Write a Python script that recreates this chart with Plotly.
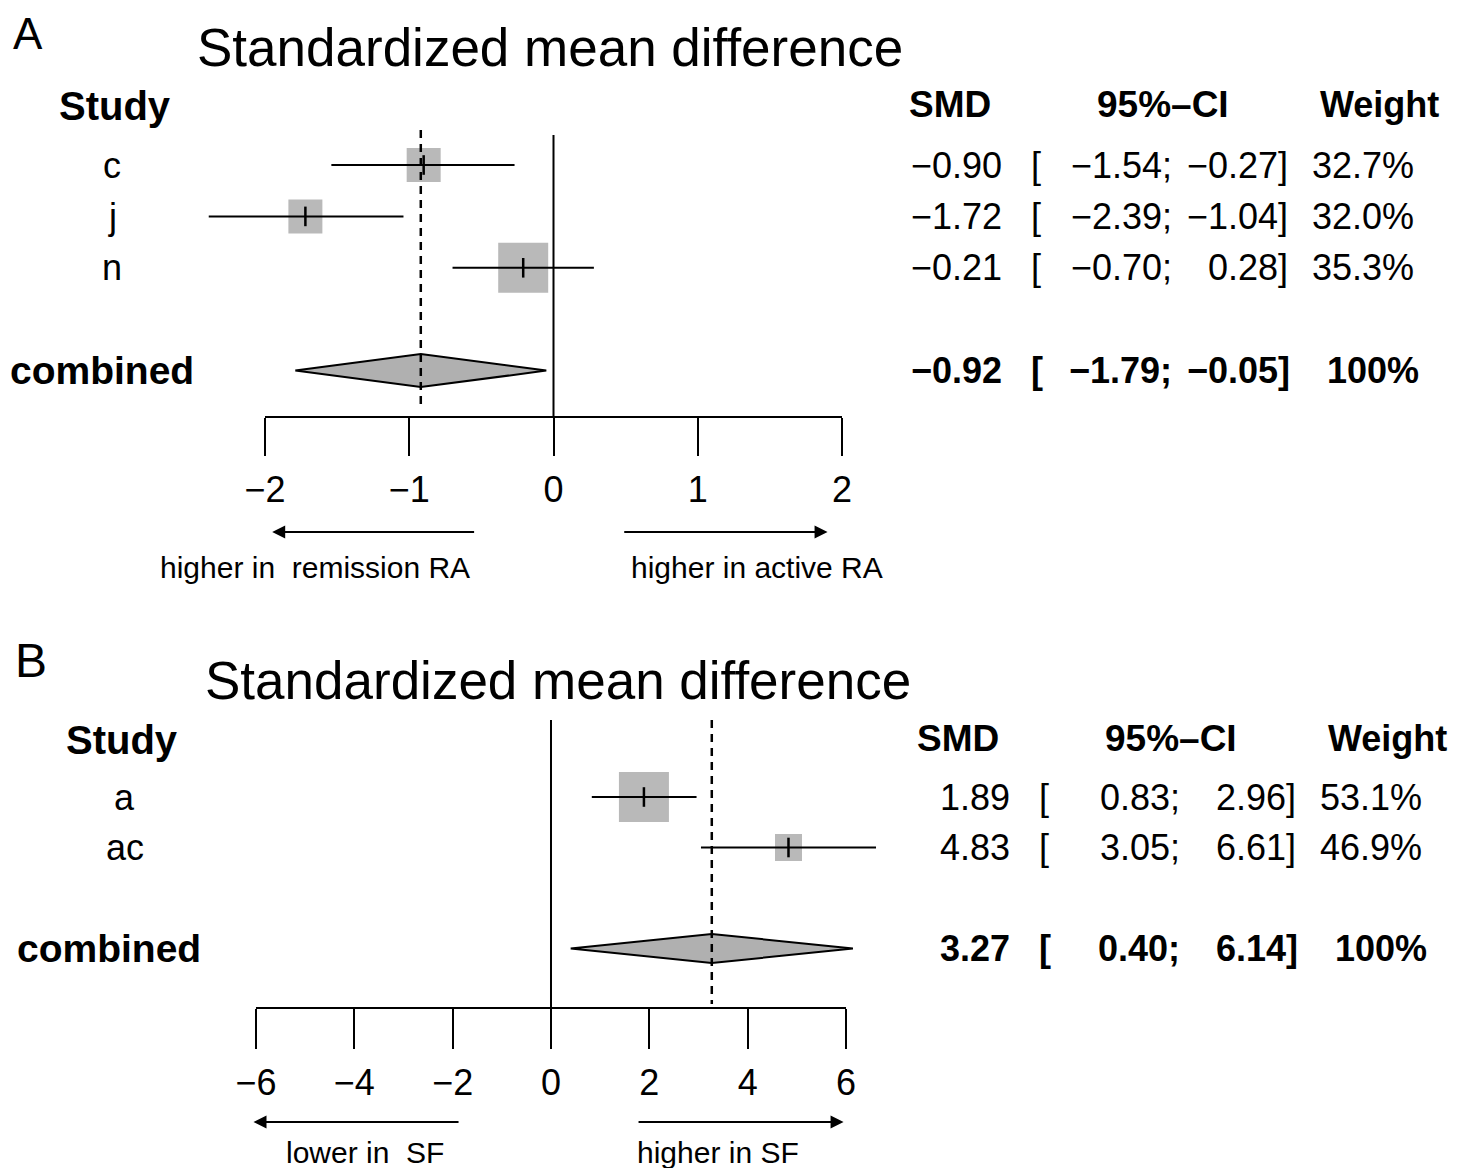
import plotly.graph_objects as go

# ---------------- data ----------------
A_studies = ["c", "j", "n"]
A_smd = [-0.90, -1.72, -0.21]
A_lo = [-1.54, -2.39, -0.70]
A_hi = [-0.27, -1.04, 0.28]
A_weight = ["32.7%", "32.0%", "35.3%"]
A_comb = [-0.92, -1.79, -0.05]   # estimate, lower, upper
A_comb_weight = "100%"
A_ticks = [-2, -1, 0, 1, 2]

B_studies = ["a", "ac"]
B_smd = [1.89, 4.83]
B_lo = [0.83, 3.05]
B_hi = [2.96, 6.61]
B_weight = ["53.1%", "46.9%"]
B_comb = [3.27, 0.40, 6.14]
B_comb_weight = "100%"
B_ticks = [-6, -4, -2, 0, 2, 4, 6]

# ---------------- style / layout ----------------
W, H = 1461, 1168
OFF = 8  # default page body margin
FW, FH = W - OFF, H - OFF
FONT = "Liberation Sans, Arial, sans-serif"
BOX = "#b9b9b9"
DIA = "#b0b0b0"
A_box = [34, 34, 50]
B_box = [50, 27]


def px(v):
    return (v - OFF) / FW


def py(v):
    return 1 - (v - OFF) / FH


def fmt(v):
    s = f"{abs(v):.2f}"
    return ("\u2212" + s) if v < 0 else s


panels = [
    dict(key="A", studies=A_studies, smd=A_smd, lo=A_lo, hi=A_hi, wt=A_weight,
         comb=A_comb, cwt=A_comb_weight, ticks=A_ticks, box=A_box,
         zero_px=553.5, unit=144.25, xr=[-2.6, 2.6],
         row0=165, step=51.4, axis_px=417, top_px=8, comb_row=5,
         vtop_px=135, dtop_px=130, dbot_px=409, dia_h=16.5, ticklen=38,
         dx=0, title_x=195, title_y=48, letter_x=12, letter_y=33, letter_size=44,
         study_x=57, study_y=106, lab_x=112, comb_x=8,
         arrow_y=532, lab_y=567,
         arrows=[(-0.54, -1.95), (0.48, 1.90)],
         bottom=[("higher in\u00a0\u00a0remission RA", 315), ("higher in active RA", 757)],
         xa="x", ya="y"),
    dict(key="B", studies=B_studies, smd=B_smd, lo=B_lo, hi=B_hi, wt=B_weight,
         comb=B_comb, cwt=B_comb_weight, ticks=B_ticks, box=B_box,
         zero_px=551, unit=49.17, xr=[-6.6, 7.2],
         row0=797, step=50.5, axis_px=1008, top_px=600, comb_row=4,
         vtop_px=720, dtop_px=720, dbot_px=1004, dia_h=14.5, ticklen=40,
         dx=8, title_x=203, title_y=680, letter_x=14, letter_y=660, letter_size=48,
         study_x=64, study_y=740, lab_x=125, comb_x=15,
         arrow_y=1122, lab_y=1152,
         arrows=[(-1.85, -6.05), (1.75, 5.95)],
         bottom=[("lower in\u00a0\u00a0SF", 365), ("higher in SF", 718)],
         xa="x2", ya="y2"),
]

fig = go.Figure()
annotations = []
shapes = []
layout_axes = {}

for p in panels:
    xa, ya = p["xa"], p["ya"]
    xaxis_name = "xaxis" if xa == "x" else "xaxis2"
    yaxis_name = "yaxis" if ya == "y" else "yaxis2"

    def pxrow(v, p=p):
        return 1 + (v - p["row0"]) / p["step"]

    x0px = p["zero_px"] + p["xr"][0] * p["unit"]
    x1px = p["zero_px"] + p["xr"][1] * p["unit"]
    layout_axes[xaxis_name] = dict(
        domain=[px(x0px), px(x1px)], range=p["xr"], anchor=ya,
        showgrid=False, zeroline=False, showline=False,
        ticks="outside", ticklen=p["ticklen"], tickwidth=2, tickcolor="black",
        tickmode="array", tickvals=p["ticks"],
        ticktext=[("\u2212" + str(abs(t))) if t < 0 else str(t) for t in p["ticks"]],
        tickfont=dict(family=FONT, size=36, color="black"),
        ticklabelstandoff=3, fixedrange=True)
    layout_axes[yaxis_name] = dict(
        domain=[py(p["axis_px"]), py(p["top_px"])],
        range=[pxrow(p["axis_px"]), pxrow(p["top_px"])], anchor=xa,
        visible=False, fixedrange=True)

    rows = list(range(1, len(p["studies"]) + 1))

    # squares
    fig.add_trace(go.Scatter(x=p["smd"], y=rows, mode="markers", xaxis=xa, yaxis=ya,
                             marker=dict(symbol="square", size=p["box"], color=BOX,
                                         opacity=1, line=dict(width=0)),
                             cliponaxis=False, showlegend=False, hoverinfo="skip"))
    # CI lines
    for r, lo, hi in zip(rows, p["lo"], p["hi"]):
        fig.add_trace(go.Scatter(x=[lo, hi], y=[r, r], mode="lines", xaxis=xa, yaxis=ya,
                                 line=dict(color="black", width=2),
                                 showlegend=False, hoverinfo="skip"))
    # point tick
    fig.add_trace(go.Scatter(x=p["smd"], y=rows, mode="markers", xaxis=xa, yaxis=ya,
                             marker=dict(symbol="line-ns", size=14, opacity=1,
                                         line=dict(color="black", width=2.5)),
                             cliponaxis=False, showlegend=False, hoverinfo="skip"))
    # diamond
    est, clo, chi = p["comb"]
    cr = p["comb_row"]
    h = p["dia_h"] / p["step"]
    fig.add_trace(go.Scatter(x=[clo, est, chi, est, clo], y=[cr, cr - h, cr, cr + h, cr],
                             mode="lines", fill="toself", fillcolor=DIA, xaxis=xa, yaxis=ya,
                             line=dict(color="black", width=2),
                             showlegend=False, hoverinfo="skip"))

    # axis baseline
    shapes.append(dict(type="line", xref=xa, yref=f"{ya} domain",
                       x0=p["ticks"][0], x1=p["ticks"][-1], y0=0, y1=0,
                       line=dict(color="black", width=2)))
    # zero line
    shapes.append(dict(type="line", xref=xa, yref=ya, x0=0, x1=0,
                       y0=pxrow(p["vtop_px"]), y1=pxrow(p["axis_px"]),
                       line=dict(color="black", width=2)))
    # pooled estimate dashed line
    shapes.append(dict(type="line", xref=xa, yref=ya, x0=est, x1=est,
                       y0=pxrow(p["dtop_px"]), y1=pxrow(p["dbot_px"]),
                       line=dict(color="black", width=2.5, dash="8px,6px")))

    # arrows
    for tail, head in p["arrows"]:
        annotations.append(dict(xref=xa, yref="paper", x=head, y=py(p["arrow_y"]),
                                axref=xa, ayref="pixel", ax=tail, ay=0, text="",
                                showarrow=True, arrowhead=2, arrowsize=1.3,
                                arrowwidth=2, arrowcolor="black", standoff=0))
    for txt, cx in p["bottom"]:
        annotations.append(dict(xref="paper", yref="paper", x=px(cx), y=py(p["lab_y"]),
                                text=txt, showarrow=False, xanchor="center", yanchor="middle",
                                font=dict(family=FONT, size=30, color="black")))

    # headers
    annotations.append(dict(xref="paper", yref="paper", x=px(p["letter_x"]), y=py(p["letter_y"]),
                            text=p["key"], showarrow=False, xanchor="left", yanchor="middle",
                            borderpad=0,
                            font=dict(family=FONT, size=p["letter_size"], color="black")))
    annotations.append(dict(xref="paper", yref="paper", x=px(p["title_x"]), y=py(p["title_y"]),
                            text="Standardized mean difference", showarrow=False,
                            xanchor="left", yanchor="middle",
                            font=dict(family=FONT, size=53, color="black")))
    annotations.append(dict(xref="paper", yref="paper", x=px(p["study_x"]), y=py(p["study_y"]),
                            text="<b>Study</b>", showarrow=False, xanchor="left", yanchor="middle",
                            font=dict(family=FONT, size=40, color="black")))
    hy = pxrow(p["study_y"] - 2)
    dx = p["dx"]
    hfont = dict(family=FONT, size=37, color="black")
    annotations.append(dict(xref="paper", yref=ya, x=px(907 + dx), y=hy, text="<b>SMD</b>",
                            showarrow=False, xanchor="left", yanchor="middle", font=hfont))
    annotations.append(dict(xref="paper", yref=ya, x=px(1163 + dx), y=hy, text="<b>95%\u2013CI</b>",
                            showarrow=False, xanchor="center", yanchor="middle", font=hfont))
    annotations.append(dict(xref="paper", yref=ya, x=px(1441 + dx), y=hy, text="<b>Weight</b>",
                            showarrow=False, xanchor="right", yanchor="middle",
                            font=dict(family=FONT, size=36, color="black")))

    # row texts
    def row_text(r, label, smd, lo, hi, wt, bold, label_x, label_anchor, wt_right):
        f = dict(family=FONT, size=36, color="black")
        b = (lambda s: f"<b>{s}</b>") if bold else (lambda s: s)
        items = [
            (label_x, label_anchor, label, dict(family=FONT, size=39 if bold else 36, color="black")),
            (px(1004 + dx), "right", fmt(smd), f),
            (px(1029 + dx), "left", "[", f),
            (px(1174 + dx), "right", fmt(lo) + ";", f),
            (px(1280 + dx), "right", fmt(hi), f),
            (px(1276 + dx), "left", "]", f),
            (px(wt_right + dx), "right", wt, f),
        ]
        for x, anc, t, ff in items:
            annotations.append(dict(xref="paper", yref=ya, x=x, y=r, text=b(t),
                                    showarrow=False, xanchor=anc, yanchor="middle", font=ff))

    for r, s, v, lo, hi, wt in zip(rows, p["studies"], p["smd"], p["lo"], p["hi"], p["wt"]):
        row_text(r, s, v, lo, hi, wt, False, px(p["lab_x"]), "center", 1416)
    row_text(cr, "combined", est, clo, chi, p["cwt"], True, px(p["comb_x"]), "left", 1421)

fig.update_layout(
    width=FW, height=FH, margin=dict(l=0, r=0, t=0, b=0),
    paper_bgcolor="white", plot_bgcolor="rgba(0,0,0,0)",
    annotations=annotations, shapes=shapes, showlegend=False,
    font=dict(family=FONT, color="black"),
    **layout_axes,
)

fig.write_html("out.html")
